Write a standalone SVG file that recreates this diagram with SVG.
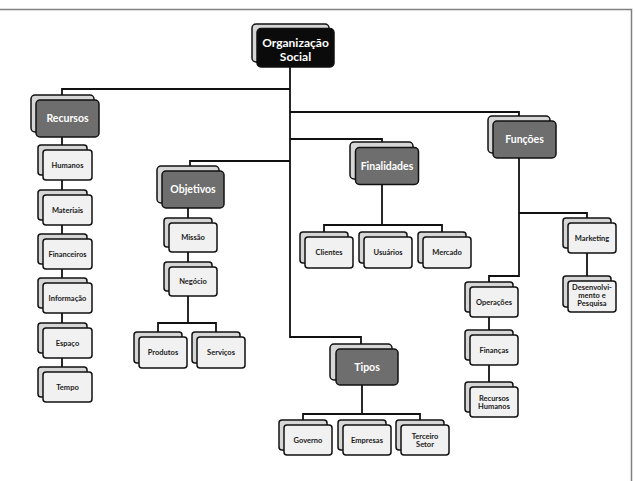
<svg xmlns="http://www.w3.org/2000/svg" width="635" height="481" viewBox="0 0 635 481">
<style>
.bk{fill:#d6d6d6;stroke:#111;stroke-width:1.5}
.lt{fill:#f1f1f1;stroke:#111;stroke-width:1.5}
.dk{fill:#6e6e6e;stroke:#111;stroke-width:1.5}
.rt{fill:#0b0b0b;stroke:#111;stroke-width:1.5}
.c{fill:none;stroke:#111;stroke-width:1.8}
text{font-family:Lato,"Liberation Sans",sans-serif;font-weight:bold;text-anchor:middle}
.s{font-size:7.5px;fill:#1a1a1a}
.d{font-size:10.5px;fill:#fff}
.r{font-size:12px;fill:#fff}
</style>
<rect x="0" y="0" width="635" height="481" fill="#fff"/>
<path d="M0 9.5H631.5V481" fill="none" stroke="#808080" stroke-width="1.5"/>
<g id="connectors" class="c">
<path d="M290 67V337H361V344"/>
<path d="M62 95V89H290"/>
<path d="M290 112H519V116"/>
<path d="M290 139H382V142"/>
<path d="M290 161H190V166"/>
<path d="M62 132V367"/>
<path d="M188 203V323"/>
<path d="M158 332V323H216V332"/>
<path d="M382 179V225"/>
<path d="M324 232V225H442V232"/>
<path d="M362 380V414"/>
<path d="M303 420V414H420V420"/>
<path d="M519 153V276H489V282"/>
<path d="M519 213H587V218"/>
<path d="M489 312V382"/>
<path d="M587 248V276"/>
</g>
<g id="root"><rect class="bk" x="252" y="24" width="77" height="38" rx="4"/><rect class="rt" x="257" y="28.5" width="77" height="38.5" rx="4"/><text class="r" x="295.5" y="46.5">Organização</text><text class="r" x="295.5" y="61">Social</text></g>
<g id="recursos"><rect class="bk" x="31" y="95" width="63" height="37" rx="4"/><rect class="dk" x="36" y="100" width="63" height="37" rx="4"/><text class="d" x="67.5" y="122">Recursos</text></g>
<g id="humanos"><rect class="bk" x="38" y="145" width="49" height="30" rx="3"/><rect class="lt" x="43" y="150" width="49" height="30" rx="3"/><text class="s" x="67.5" y="167.5">Humanos</text></g>
<g id="materiais"><rect class="bk" x="38" y="190" width="49" height="30" rx="3"/><rect class="lt" x="43" y="195" width="49" height="30" rx="3"/><text class="s" x="67.5" y="212.5">Materiais</text></g>
<g id="financeiros"><rect class="bk" x="38" y="234" width="49" height="30" rx="3"/><rect class="lt" x="43" y="239" width="49" height="30" rx="3"/><text class="s" x="67.5" y="256.5">Financeiros</text></g>
<g id="informacao"><rect class="bk" x="38" y="278" width="49" height="30" rx="3"/><rect class="lt" x="43" y="283" width="49" height="30" rx="3"/><text class="s" x="67.5" y="300.5">Informação</text></g>
<g id="espaco"><rect class="bk" x="38" y="323" width="49" height="30" rx="3"/><rect class="lt" x="43" y="328" width="49" height="30" rx="3"/><text class="s" x="67.5" y="345.5">Espaço</text></g>
<g id="tempo"><rect class="bk" x="38" y="367" width="49" height="30" rx="3"/><rect class="lt" x="43" y="372" width="49" height="30" rx="3"/><text class="s" x="67.5" y="389.5">Tempo</text></g>
<g id="objetivos"><rect class="bk" x="157" y="166" width="62" height="37" rx="4"/><rect class="dk" x="162" y="171" width="62" height="37" rx="4"/><text class="d" x="193" y="193">Objetivos</text></g>
<g id="missao"><rect class="bk" x="164" y="218" width="48" height="29" rx="3"/><rect class="lt" x="169" y="223" width="48" height="29" rx="3"/><text class="s" x="193" y="240">Missão</text></g>
<g id="negocio"><rect class="bk" x="164" y="262" width="48" height="29" rx="3"/><rect class="lt" x="169" y="267" width="48" height="29" rx="3"/><text class="s" x="193" y="284">Negócio</text></g>
<g id="produtos"><rect class="bk" x="134" y="332" width="48" height="31" rx="3"/><rect class="lt" x="139" y="337" width="48" height="31" rx="3"/><text class="s" x="163" y="355">Produtos</text></g>
<g id="servicos"><rect class="bk" x="192" y="332" width="48" height="31" rx="3"/><rect class="lt" x="197" y="337" width="48" height="31" rx="3"/><text class="s" x="221" y="355">Serviços</text></g>
<g id="finalidades"><rect class="bk" x="350" y="142" width="63" height="37" rx="4"/><rect class="dk" x="355.5" y="147.5" width="63" height="37" rx="4"/><text class="d" x="387" y="169.5">Finalidades</text></g>
<g id="clientes"><rect class="bk" x="300" y="232" width="48" height="31" rx="3"/><rect class="lt" x="305" y="237" width="48" height="31" rx="3"/><text class="s" x="329" y="255">Clientes</text></g>
<g id="usuarios"><rect class="bk" x="359" y="232" width="48" height="31" rx="3"/><rect class="lt" x="364" y="237" width="48" height="31" rx="3"/><text class="s" x="388" y="255">Usuários</text></g>
<g id="mercado"><rect class="bk" x="418" y="232" width="48" height="31" rx="3"/><rect class="lt" x="423" y="237" width="48" height="31" rx="3"/><text class="s" x="447" y="255">Mercado</text></g>
<g id="funcoes"><rect class="bk" x="488" y="116" width="62" height="37" rx="4"/><rect class="dk" x="493" y="121" width="63" height="37" rx="4"/><text class="d" x="524.5" y="143">Funções</text></g>
<g id="marketing"><rect class="bk" x="563" y="218" width="48" height="30" rx="3"/><rect class="lt" x="568" y="223" width="48" height="30" rx="3"/><text class="s" x="592" y="240.5">Marketing</text></g>
<g id="desenvolvimento"><rect class="bk" x="563" y="276" width="48" height="31" rx="3"/><rect class="lt" x="568" y="281" width="48" height="31" rx="3"/><text class="s" x="592" y="290">Desenvolvi-</text><text class="s" x="592" y="298">mento e</text><text class="s" x="592" y="306">Pesquisa</text></g>
<g id="operacoes"><rect class="bk" x="465" y="282" width="48" height="30" rx="3"/><rect class="lt" x="470" y="287" width="48" height="30" rx="3"/><text class="s" x="494" y="304.5">Operações</text></g>
<g id="financas"><rect class="bk" x="465" y="330" width="48" height="30" rx="3"/><rect class="lt" x="470" y="335" width="48" height="30" rx="3"/><text class="s" x="494" y="352.5">Finanças</text></g>
<g id="recursos-humanos"><rect class="bk" x="465" y="382" width="48" height="30" rx="3"/><rect class="lt" x="470" y="387" width="48" height="30" rx="3"/><text class="s" x="494" y="400.5">Recursos</text><text class="s" x="494" y="409">Humanos</text></g>
<g id="tipos"><rect class="bk" x="330" y="344" width="62" height="36" rx="4"/><rect class="dk" x="336" y="349" width="62" height="36" rx="4"/><text class="d" x="367" y="370.5">Tipos</text></g>
<g id="governo"><rect class="bk" x="279" y="420" width="48" height="30" rx="3"/><rect class="lt" x="284" y="425" width="48" height="30" rx="3"/><text class="s" x="308" y="442.5">Governo</text></g>
<g id="empresas"><rect class="bk" x="338" y="420" width="48" height="30" rx="3"/><rect class="lt" x="343" y="425" width="48" height="30" rx="3"/><text class="s" x="367" y="442.5">Empresas</text></g>
<g id="terceiro-setor"><rect class="bk" x="396" y="420" width="48" height="30" rx="3"/><rect class="lt" x="401" y="425" width="48" height="30" rx="3"/><text class="s" x="425" y="438.5">Terceiro</text><text class="s" x="425" y="446.5">Setor</text></g>
</svg>
